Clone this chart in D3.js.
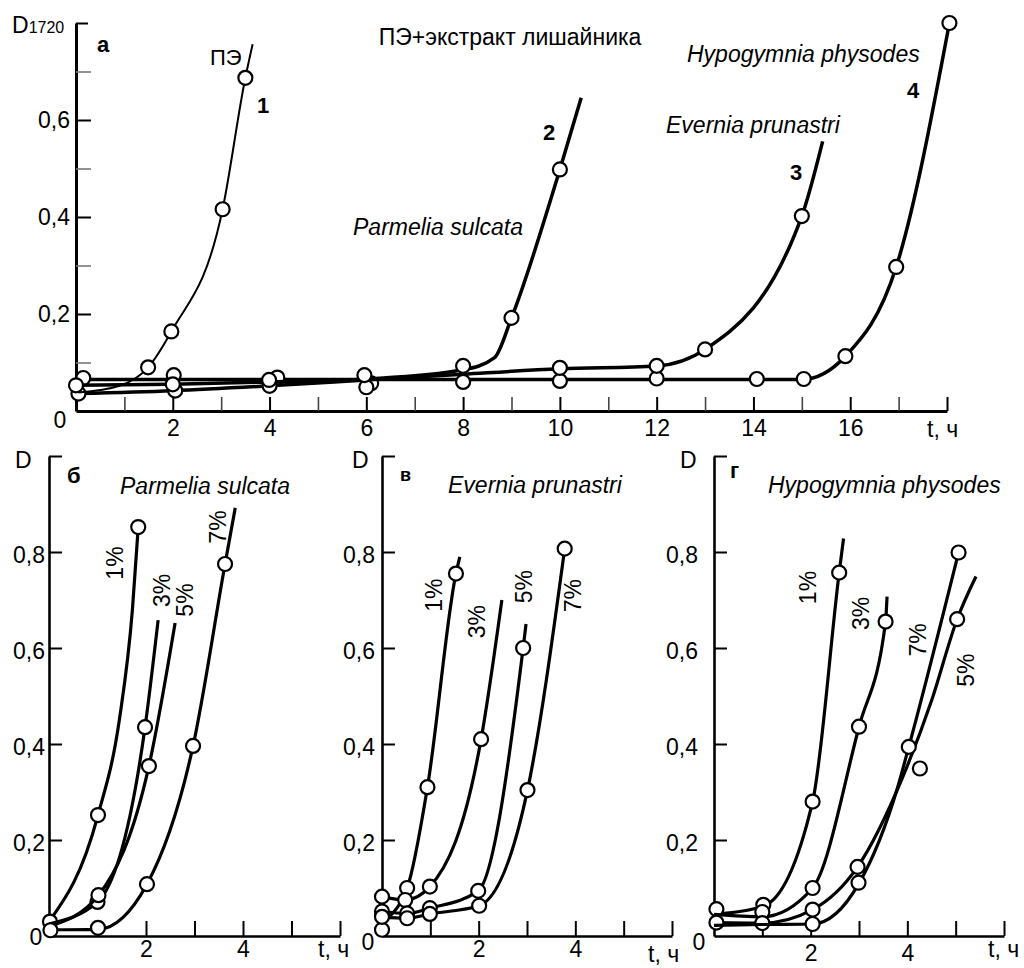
<!DOCTYPE html>
<html><head><meta charset="utf-8">
<script src="https://cdn.jsdelivr.net/npm/d3@7"></script>
<style>
body{margin:0;background:#fff}
svg{display:block}
text{font-family:"Liberation Sans",Arial,sans-serif;fill:#000}
</style>
</head><body>
<svg id="c" width="1024" height="968"></svg>
<script>
// ---------------- DATA ----------------
const topTimeTicks = [1,2,3,4,5,6,7,8,9,10,11,12,13,14,15,16,17,18];
const topTimeLabels = [2,4,6,8,10,12,14,16];
const topDTicks = [0.1,0.2,0.3,0.4,0.5,0.6,0.7,0.8];
const topDLabels = [0.2,0.4,0.6];
const smallTimeTicks = [1,2,3,4,5,6];
const smallTimeLabels = [2,4];
const smallDTicks = [0.2,0.4,0.6,0.8,1.0];
const smallDLabels = [0.2,0.4,0.6,0.8];

// panel а  (t, D)
const aPE_line   = [[0.05,0.038],[0.9,0.052],[1.49,0.09],[1.97,0.164],[3.03,0.416],[3.5,0.687],[3.65,0.756]];
const aPE_pts    = [[1.49,0.09],[1.97,0.164],[3.03,0.416],[3.5,0.687]];
const aParm_line = [[0,0.053],[2,0.055],[4,0.06],[6,0.066],[8,0.085],[8.65,0.11],[9,0.192],[10,0.498],[10.44,0.646]];
const aParm_pts  = [[0,0.053],[2,0.055],[3.99,0.064],[5.96,0.074],[8,0.093],[9,0.192],[10,0.498]];
const aEvern_line= [[0.05,0.036],[2,0.042],[4,0.052],[6,0.064],[8,0.076],[10,0.087],[12,0.093],[13,0.127],[15,0.402],[15.43,0.556]];
const aEvern_pts = [[0.05,0.036],[2.05,0.042],[4,0.052],[6,0.049],[10,0.089],[12,0.093],[13,0.127],[15,0.402]];
const aHypo_line = [[0.15,0.065],[15,0.065],[15.9,0.113],[16.95,0.297],[18.05,0.8]];
const aHypo_pts  = [[0.15,0.068],[2.02,0.074],[4.16,0.069],[6.1,0.057],[8,0.06],[10,0.062],[12,0.067],[14.07,0.066],[15.04,0.066],[15.9,0.113],[16.95,0.297],[18.05,0.8]];

// panel б  Parmelia sulcata
const b1_line = [[0,0.03],[1.01,0.252],[1.45,0.45],[1.72,0.68],[1.84,0.852]];
const b1_pts  = [[0.02,0.03],[1.01,0.252],[1.84,0.852]];
const b3_line = [[0,0.025],[1.0,0.071],[1.98,0.435],[2.25,0.658]];
const b3_pts  = [[1.0,0.071],[1.98,0.435]];
const b5_line = [[0,0.02],[1.02,0.085],[2.06,0.354],[2.6,0.652]];
const b5_pts  = [[1.02,0.085],[2.06,0.354]];
const b7_line = [[0,0.013],[1.01,0.014],[2.02,0.108],[2.97,0.396],[3.63,0.775],[3.84,0.892]];
const b7_pts  = [[0.03,0.012],[1.01,0.017],[2.02,0.108],[2.97,0.396],[3.63,0.775]];

// panel в  Evernia prunastri
const v1_line = [[0,0.03],[0.52,0.1],[0.94,0.31],[1.53,0.755],[1.61,0.79]];
const v1_pts  = [[0,0.013],[0.52,0.1],[0.94,0.31],[1.53,0.755]];
const v3_line = [[0,0.082],[0.48,0.075],[0.99,0.103],[2.05,0.41],[2.48,0.70]];
const v3_pts  = [[0,0.082],[0.48,0.075],[0.99,0.103],[2.05,0.41]];
const v5_line = [[0,0.051],[0.52,0.047],[0.99,0.058],[1.99,0.094],[2.92,0.6],[2.98,0.65]];
const v5_pts  = [[0,0.051],[0.52,0.047],[0.99,0.058],[1.99,0.094],[2.92,0.6]];
const v7_line = [[0,0.04],[0.52,0.037],[0.99,0.046],[2.01,0.063],[3.01,0.304],[3.78,0.807]];
const v7_pts  = [[0,0.04],[0.52,0.037],[0.99,0.046],[2.01,0.063],[3.01,0.304],[3.78,0.807]];

// panel г  Hypogymnia physodes
const g1_line = [[0,0.045],[1.02,0.062],[2.04,0.28],[2.59,0.757],[2.68,0.828]];
const g1_pts  = [[0.05,0.056],[1.02,0.065],[2.04,0.28],[2.59,0.757]];
const g3_line = [[0,0.045],[1.0,0.04],[2.04,0.1],[3.0,0.436],[3.55,0.655],[3.58,0.707]];
const g3_pts  = [[1.0,0.05],[2.04,0.1],[3.0,0.436],[3.55,0.655]];
const g5_line = [[0,0.028],[1.0,0.027],[2.04,0.055],[2.97,0.144],[3.9,0.33],[4.5,0.49],[5.03,0.66],[5.42,0.749]];
const g5_pts  = [[0.05,0.028],[1.0,0.027],[2.04,0.055],[2.97,0.144],[4.26,0.349],[5.03,0.66]];
const g7_line = [[0,0.022],[1.0,0.024],[2.04,0.025],[2.99,0.108],[3.8,0.31],[4.03,0.394],[5.06,0.799]];
const g7_pts  = [[2.04,0.025],[2.99,0.111],[4.03,0.394],[5.06,0.799]];

const pctLabels = ["1%","3%","5%","7%"];
// label anchor points (t, D) for rotated concentration labels
const bLabelPos = [[1.36,0.777],[2.33,0.72],[2.80,0.70],[3.48,0.852]];
const vLabelPos = [[1.076,0.71],[1.97,0.655],[2.94,0.728],[3.96,0.709]];
const gLabelPos = [[1.95,0.726],[3.04,0.672],[5.21,0.554],[4.22,0.617]];

// ---------------- DRAW ----------------
const svg = d3.select("#c");
const fmt = d => d.toFixed(1).replace(".", ",");
const FS = 23;

function drawSeries(g, x, y, line, pts, width) {
  const gen = d3.line().x(d => x(d[0])).y(d => y(d[1])).curve(d3.curveMonotoneX);
  g.append("path").attr("d", gen(line)).attr("fill","none")
    .attr("stroke","#000").attr("stroke-width",width).attr("stroke-linejoin","round");
  g.selectAll(null).data(pts).enter().append("circle")
    .attr("cx", d => x(d[0])).attr("cy", d => y(d[1])).attr("r", 7)
    .attr("fill","#fff").attr("stroke","#000").attr("stroke-width",2.2);
}

function styleAxis(ax, domainW) {
  ax.select(".domain").attr("stroke","#000").attr("stroke-width",domainW);
  ax.selectAll(".tick line").attr("stroke","#000").attr("stroke-width",2);
  ax.selectAll(".tick text").attr("font-size",FS).attr("font-family","Liberation Sans, Arial, sans-serif").attr("fill","#000");
}

function txt(x, y, s, o = {}) {
  const t = svg.append("text").attr("x", x).attr("y", y).text(s)
    .attr("font-size", o.size || FS);
  if (o.anchor) t.attr("text-anchor", o.anchor);
  if (o.bold) t.attr("font-weight", "bold");
  if (o.italic) t.attr("font-style", "italic");
  return t;
}

// ---- top panel а ----
{
  const x = d3.scaleLinear([0,18],[76,947]);
  const y = d3.scaleLinear([0,0.8],[411,23]);
  const g = svg.append("g");

  const xa = g.append("g").attr("transform","translate(0,411)")
    .call(d3.axisBottom(x).tickValues(topTimeTicks).tickSize(-14).tickSizeOuter(0).tickPadding(9)
      .tickFormat(d => topTimeLabels.includes(d) ? d : ""));
  styleAxis(xa, 3);
  xa.selectAll(".tick").filter(d => d % 2 === 1).select("line").attr("stroke","#444").attr("stroke-width",1.6);

  const ya = g.append("g").attr("transform","translate(76,0)")
    .call(d3.axisLeft(y).tickValues(topDTicks).tickSize(-15).tickSizeOuter(0).tickPadding(6)
      .tickFormat(d => topDLabels.includes(d) ? fmt(d) : ""));
  styleAxis(ya, 3);
  ya.selectAll(".tick").filter(d => [0.1,0.3,0.5,0.7].includes(d)).select("line")
    .attr("stroke","#777").attr("stroke-width",1.6);
  ya.selectAll(".tick").filter(d => d === 0.8).select("line").attr("x2",12);

  drawSeries(g, x, y, aHypo_line, aHypo_pts, 3.5);
  drawSeries(g, x, y, aEvern_line, aEvern_pts, 3.5);
  drawSeries(g, x, y, aParm_line, aParm_pts, 3.5);
  drawSeries(g, x, y, aPE_line, aPE_pts, 2);

  const d = svg.append("text").attr("x",12).attr("y",33);
  d.append("tspan").text("D").attr("font-size",FS);
  d.append("tspan").text("1720").attr("font-size",16);
  txt(60, 428, "0", {anchor:"middle"});
  txt(927, 437, "t, ч");
  txt(97, 52, "а", {bold:true, size:22});
  txt(510, 45, "ПЭ+экстракт лишайника", {anchor:"middle"});
  txt(210, 65, "ПЭ", {size:22});
  txt(257, 113, "1", {bold:true, size:22});
  txt(353, 235, "Parmelia sulcata", {italic:true});
  txt(543, 140, "2", {bold:true, size:22});
  txt(666, 133, "Evernia prunastri", {italic:true});
  txt(790, 180, "3", {bold:true, size:22});
  txt(687, 62, "Hypogymnia physodes", {italic:true});
  txt(907, 98, "4", {bold:true, size:22});
}

// ---- bottom panels ----
const panels = [
  {x0:49, x1:340, series:[[b1_line,b1_pts],[b3_line,b3_pts],[b5_line,b5_pts],[b7_line,b7_pts]], lab:bLabelPos,
   ypad:4, xpad:5, D:[15,468], zero:[36,945], t:[318,957], letter:["б",67,483,22], title:["Parmelia sulcata",120,494]},
  {x0:382, x1:672, series:[[v1_line,v1_pts],[v3_line,v3_pts],[v5_line,v5_pts],[v7_line,v7_pts]], lab:vLabelPos,
   ypad:7, xpad:5, D:[352,468], zero:[368,950], t:[648,962], letter:["в",400,481,18], title:["Evernia prunastri",448,493]},
  {x0:714, x1:1004, series:[[g1_line,g1_pts],[g3_line,g3_pts],[g5_line,g5_pts],[g7_line,g7_pts]], lab:gLabelPos,
   ypad:16, xpad:9, D:[680,468], zero:[699,950], t:[988,957], letter:["г",730,478,22], title:["Hypogymnia physodes",768,493]}
];

panels.forEach(p => {
  const x = d3.scaleLinear([0,6],[p.x0,p.x1]);
  const y = d3.scaleLinear([0,1.0],[936,456]);
  const g = svg.append("g");

  const xa = g.append("g").attr("transform","translate(0,936)")
    .call(d3.axisBottom(x).tickValues(smallTimeTicks).tickSize(-15).tickSizeOuter(0).tickPadding(p.xpad)
      .tickFormat(d => smallTimeLabels.includes(d) ? d : ""));
  styleAxis(xa, 2.6);

  const ya = g.append("g").attr("transform",`translate(${p.x0},0)`)
    .call(d3.axisLeft(y).tickValues(smallDTicks).tickSize(-13).tickSizeOuter(0).tickPadding(p.ypad)
      .tickFormat(d => smallDLabels.includes(d) ? fmt(d) : ""));
  styleAxis(ya, 2.6);
  ya.selectAll(".tick text").attr("dy","0.45em");

  p.series.forEach(s => drawSeries(g, x, y, s[0], s[1], 3.2));

  p.lab.forEach((c, i) => {
    g.append("text").attr("transform", `translate(${x(c[0])},${y(c[1])}) rotate(-90)`)
      .attr("text-anchor","middle").attr("dy","0.35em").attr("font-size",23).text(pctLabels[i]);
  });

  txt(p.D[0], p.D[1], "D");
  txt(p.zero[0], p.zero[1], "0", {anchor:"middle"});
  txt(p.t[0], p.t[1], "t, ч");
  txt(p.letter[1], p.letter[2], p.letter[0], {bold:true, size:p.letter[3]});
  txt(p.title[1], p.title[2], p.title[0], {italic:true});
});
</script>
</body></html>
